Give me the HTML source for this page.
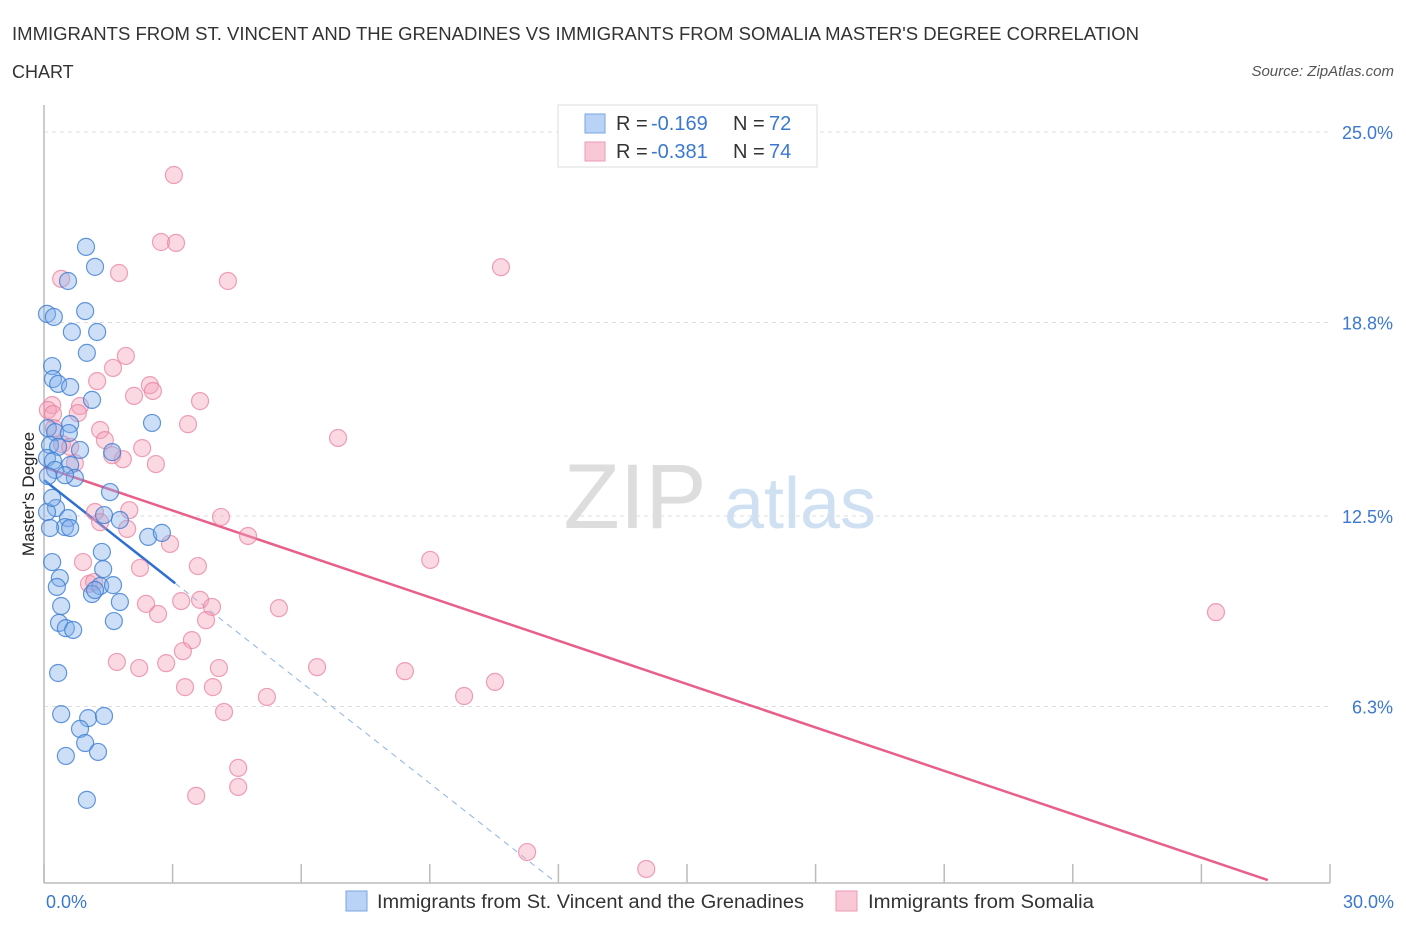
<!DOCTYPE html>
<html><head><meta charset="utf-8"><style>
body{margin:0;background:#fff;font-family:"Liberation Sans",sans-serif;}
svg text{font-family:"Liberation Sans",sans-serif;}
</style></head><body>
<svg width="1406" height="930" viewBox="0 0 1406 930">
<text x="12" y="40" font-size="18" fill="#333" textLength="1127" lengthAdjust="spacingAndGlyphs">IMMIGRANTS FROM ST. VINCENT AND THE GRENADINES VS IMMIGRANTS FROM SOMALIA MASTER'S DEGREE CORRELATION</text>
<text x="12" y="78" font-size="18" fill="#333">CHART</text>
<text x="1394" y="76" font-size="15" fill="#555" font-style="italic" text-anchor="end">Source: ZipAtlas.com</text>
<text x="635" y="528" font-size="92" fill="#ddd" font-family="Liberation Serif" text-anchor="middle">ZIP</text>
<text x="800" y="528" font-size="72" fill="#cfe0f3" text-anchor="middle">atlas</text>
<g id="grid"></g>
<g id="axes"></g>
<g id="lines"></g>
<g id="pts"></g>
<text transform="translate(34,494) rotate(-90)" font-size="17" fill="#222" text-anchor="middle">Master's Degree</text>
<text x="46" y="908" font-size="18" fill="#3b78d0">0.0%</text>
<text x="1394" y="908" font-size="18" fill="#3b78d0" text-anchor="end">30.0%</text>
<g>
<rect x="558" y="105" width="259" height="62" fill="#fff" stroke="#ddd"/>
<rect x="585" y="114" width="20" height="19" fill="#b8d3f5" stroke="#7aa6e0"/>
<rect x="585" y="142" width="20" height="19" fill="#f9c8d6" stroke="#eb9ab2"/>
<text x="616" y="130" font-size="20" fill="#333">R =</text>
<text x="651" y="130" font-size="20" fill="#3b78d0">-0.169</text>
<text x="733" y="130" font-size="20" fill="#333">N =</text>
<text x="769" y="130" font-size="20" fill="#3b78d0">72</text>
<text x="616" y="158" font-size="20" fill="#333">R =</text>
<text x="651" y="158" font-size="20" fill="#3b78d0">-0.381</text>
<text x="733" y="158" font-size="20" fill="#333">N =</text>
<text x="769" y="158" font-size="20" fill="#3b78d0">74</text>
</g>
<g>
<rect x="346" y="891" width="21" height="20" fill="#b8d3f5" stroke="#7aa6e0"/>
<text x="377" y="908" font-size="19" fill="#333" textLength="427" lengthAdjust="spacingAndGlyphs">Immigrants from St. Vincent and the Grenadines</text>
</g>
<g>
<rect x="836" y="891" width="21" height="20" fill="#f9c8d6" stroke="#eb9ab2"/>
<text x="868" y="908" font-size="19" fill="#333" textLength="226" lengthAdjust="spacingAndGlyphs">Immigrants from Somalia</text>
</g>
</svg>
<script>
const yTicks=[25.0,18.8,12.5,6.3];
const yTickLabels=["25.0%","18.8%","12.5%","6.3%"];
const xTicks=[0,3,6,9,12,15,18,21,24,27,30];
const blueX=[0.98,1.19,0.56,0.07,0.23,0.96,0.65,1.24,1.00,0.19,0.21,0.33,0.61,1.12,2.52,0.09,0.26,0.61,0.58,0.14,0.33,0.84,1.59,0.07,0.21,0.61,0.72,0.26,0.49,1.54,0.28,0.07,1.77,1.40,0.56,0.49,0.61,0.14,2.43,2.75,1.35,1.38,0.19,0.37,0.30,1.31,1.61,1.12,1.77,0.40,0.35,0.51,0.68,1.63,0.33,0.40,1.03,1.40,0.84,0.96,0.51,1.26,1.00,0.09,0.19,1.19];
const blueY=[21.26,20.61,20.15,19.08,18.98,19.17,18.49,18.49,17.81,17.38,16.96,16.80,16.70,16.28,15.53,15.36,15.23,15.49,15.20,14.81,14.75,14.65,14.58,14.39,14.29,14.16,13.74,14.00,13.83,13.28,12.76,12.63,12.37,12.53,12.43,12.14,12.11,12.11,11.82,11.95,11.33,10.77,11.00,10.48,10.19,10.22,10.25,9.96,9.70,9.57,9.02,8.85,8.79,9.08,7.39,6.05,5.92,5.99,5.57,5.11,4.69,4.82,3.26,13.80,13.09,10.09];
const pinkX=[3.03,2.73,3.08,1.75,4.29,0.40,10.66,1.91,1.61,1.24,2.47,2.54,2.10,3.64,0.19,0.09,0.21,0.84,0.79,3.36,0.23,1.31,6.86,0.42,1.42,2.29,0.61,1.84,1.59,2.61,0.72,1.19,1.99,4.13,4.76,1.31,1.94,2.94,9.01,0.91,2.24,3.59,1.05,1.17,2.38,3.20,3.64,2.66,3.92,5.48,3.78,27.34,3.45,3.24,1.70,2.22,2.85,4.08,6.37,8.42,3.29,3.94,10.52,9.80,5.20,4.20,4.53,4.53,3.55,11.27,14.05];
const pinkY=[23.60,21.42,21.39,20.41,20.15,20.22,20.60,17.71,17.32,16.89,16.76,16.57,16.41,16.24,16.11,15.95,15.82,16.08,15.85,15.49,15.36,15.30,15.04,14.84,14.97,14.71,14.75,14.35,14.48,14.19,14.22,12.63,12.69,12.47,11.85,12.30,12.08,11.59,11.07,11.00,10.81,10.87,10.29,10.35,9.64,9.73,9.77,9.31,9.54,9.50,9.11,9.37,8.46,8.10,7.75,7.55,7.71,7.55,7.58,7.45,6.93,6.93,7.10,6.64,6.61,6.12,4.30,3.68,3.39,1.56,1.01];
const blueTrend=[0,13.67,3.06,10.31,11.9,0.62];
const pinkTrend=[0,14.09,28.55,0.65];
const NS="http://www.w3.org/2000/svg";
const X=v=>44+v*1286/30, Y=v=>900-v*192/6.25;
function mk(tag,attrs,parent){const e=document.createElementNS(NS,tag);for(const k in attrs)e.setAttribute(k,attrs[k]);document.getElementById(parent).appendChild(e);return e;}
yTicks.forEach((t,i)=>{
 const l=mk('line',{x1:44,x2:1330,y1:Y(t),y2:Y(t),stroke:'#ddd','stroke-dasharray':'4,4'},'grid');
 
 
 const tx=mk('text',{x:1393,y:Y(t)+7,'font-size':18,fill:'#3b78d0','text-anchor':'end'},'grid');
 tx.textContent=yTickLabels[i];
 
 
});
const ax=mk('line',{x1:44,x2:44,y1:105,y2:883,stroke:'#bbb','stroke-width':1.5},'axes');


const bx=mk('line',{x1:44,x2:1330,y1:883,y2:883,stroke:'#bbb','stroke-width':1.5},'axes');


xTicks.forEach(t=>{
 const l=mk('line',{x1:X(t),x2:X(t),y1:864,y2:883,stroke:'#bbb','stroke-width':1.5},'axes');
 
 
});
function pts(xs,ys,fill,stroke,name){xs.forEach((x,i)=>{
 const c=mk('circle',{cx:X(x),cy:Y(ys[i]),r:8.5,fill:fill,stroke:stroke,'stroke-width':1.2},'pts');
 
 
});}
pts(pinkX,pinkY,'rgba(245,160,185,0.4)','rgba(232,130,160,0.75)','somalia-point');
pts(blueX,blueY,'rgba(130,175,235,0.4)','rgba(60,125,210,0.8)','stvincent-point');
const bl=mk('line',{x1:X(blueTrend[0]),y1:Y(blueTrend[1]),x2:X(blueTrend[2]),y2:Y(blueTrend[3]),stroke:'#2f6fd0','stroke-width':2.5},'lines');


const bd=mk('line',{x1:X(blueTrend[2]),y1:Y(blueTrend[3]),x2:X(blueTrend[4]),y2:Y(blueTrend[5]),stroke:'#8fb2e4','stroke-width':1,'stroke-dasharray':'6,5'},'lines');


const pl=mk('line',{x1:X(pinkTrend[0]),y1:Y(pinkTrend[1]),x2:X(pinkTrend[2]),y2:Y(pinkTrend[3]),stroke:'#e8608a','stroke-width':2.5},'lines');


</script>
</body></html>
